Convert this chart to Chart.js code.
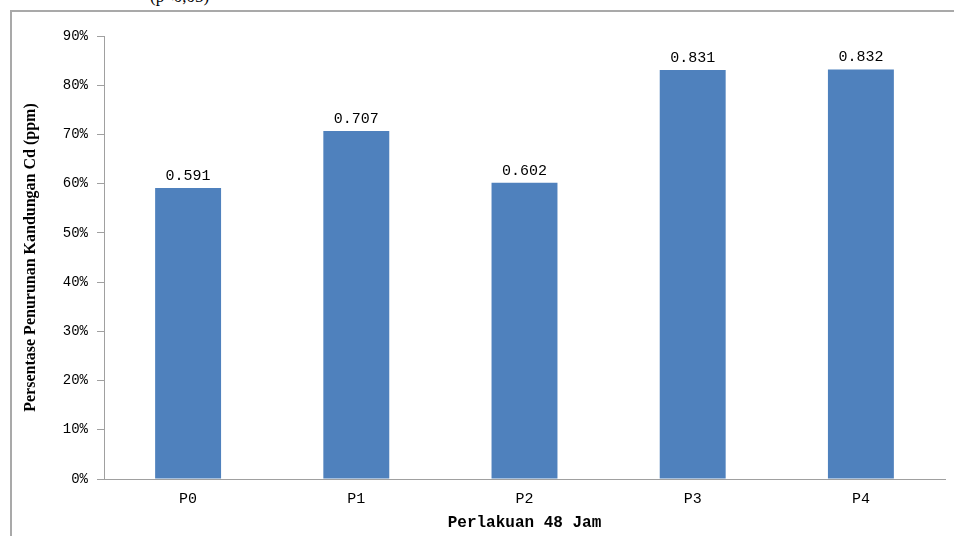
<!DOCTYPE html>
<html>
<head>
<meta charset="utf-8">
<script src="https://cdn.jsdelivr.net/npm/chart.js@4/dist/chart.umd.min.js"></script>
<style>
  html, body { margin: 0; padding: 0; background: #fff; }
  #wrap { position: relative; width: 954px; height: 536px; overflow: hidden; background: #fff; }
  #note { position: absolute; left: 150px; top: 0; height: 9px; overflow: hidden; }
  #note span { display: block; margin-top: -13px; font: 17px "Liberation Serif", serif; color: #000; }
  #frame { position: absolute; left: 10px; top: 10px; width: 960px; height: 540px;
           border-left: 2px solid #a9a9a9; border-top: 2px solid #a9a9a9; box-sizing: border-box; }
  #c { position: absolute; left: 0; top: 0; }
</style>
</head>
<body>
<div id="wrap">
  <div id="note"><span>(p&lt;0,05)</span></div>
  <div id="frame"></div>
  <canvas id="c" width="954" height="536"></canvas>
</div>
<script>
// Treatments and measured Cd reduction after 48 hours
const categories = ['P0', 'P1', 'P2', 'P3', 'P4'];
const reduction = [0.591, 0.707, 0.602, 0.831, 0.832];
const yTicks = [0, 0.1, 0.2, 0.3, 0.4, 0.5, 0.6, 0.7, 0.8, 0.9];

const yTitle = 'Persentase Penurunan Kandungan Cd (ppm)';
const xTitle = 'Perlakuan 48 Jam';

const axisGrey = '#a0a0a0';
const barBlue = '#4f81bd';
const mono = '"Liberation Mono", "DejaVu Sans Mono", monospace';

// Writes each bar's value above it
const valueLabels = {
  id: 'valueLabels',
  afterDatasetsDraw(chart) {
    const ctx = chart.ctx;
    const meta = chart.getDatasetMeta(0);
    ctx.save();
    ctx.font = '15px ' + mono;
    ctx.fillStyle = '#000';
    ctx.textAlign = 'center';
    ctx.textBaseline = 'middle';
    meta.data.forEach((bar, i) => {
      const v = chart.data.datasets[0].data[i];
      ctx.fillText(v.toFixed(3), bar.x, bar.y - 12);
    });
    ctx.restore();
  }
};

new Chart(document.getElementById('c'), {
  type: 'bar',
  data: {
    labels: categories,
    datasets: [{
      data: reduction,
      backgroundColor: barBlue,
      borderWidth: 0,
      categoryPercentage: 1,
      barPercentage: 0.392
    }]
  },
  options: {
    responsive: false,
    animation: false,
    devicePixelRatio: 1,
    layout: { padding: { left: 17, top: 36, right: 9, bottom: 0 } },
    plugins: {
      legend: { display: false },
      tooltip: { enabled: false }
    },
    scales: {
      x: {
        afterFit(scale) { scale.height = 57; },
        grid: { display: true, drawOnChartArea: false, drawTicks: false, color: 'rgba(0,0,0,0)' },
        border: { display: true, color: axisGrey, width: 1 },
        ticks: { color: '#000', font: { family: mono, size: 15 }, padding: 11 },
        title: {
          display: true,
          text: xTitle,
          color: '#000',
          font: { family: mono, size: 16, weight: 'bold' },
          padding: { top: 0, bottom: 3 }
        }
      },
      y: {
        min: 0,
        max: 0.9,
        afterFit(scale) { scale.width = 87; },
        afterBuildTicks(scale) { scale.ticks = yTicks.map(v => ({ value: v })); },
        grid: { display: true, drawOnChartArea: false, drawTicks: true, tickLength: 7, color: axisGrey, lineWidth: 1 },
        border: { display: true, color: axisGrey, width: 1 },
        ticks: {
          color: '#000',
          font: { family: mono, size: 14 },
          padding: 9,
          callback: (v) => Math.round(v * 100) + '%'
        },
        title: {
          display: true,
          text: yTitle,
          color: '#000',
          font: { family: '"Liberation Serif", serif', size: 16, weight: 'bold' },
          padding: { top: 4, bottom: 0 }
        }
      }
    }
  },
  plugins: [valueLabels]
});
</script>
</body>
</html>
